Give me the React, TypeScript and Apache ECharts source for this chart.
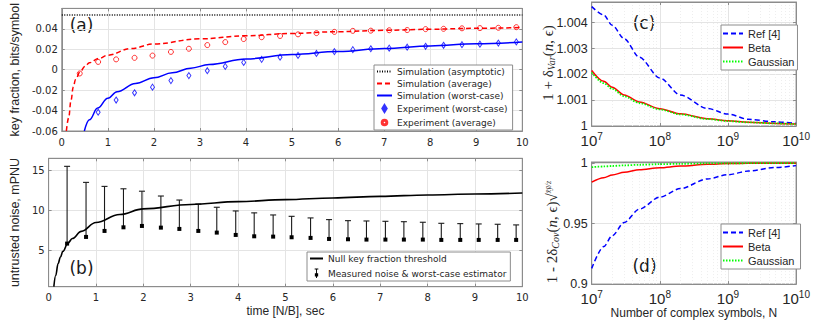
import { useEffect, useRef } from 'react';
import * as echarts from 'echarts';

// ---------- Panel (a): key fraction ----------
const tExp = [0.39, 0.79, 1.18, 1.58, 1.97, 2.37, 2.76, 3.16, 3.55, 3.95, 4.34, 4.74, 5.13, 5.53, 5.92, 6.32, 6.71, 7.11, 7.5, 7.9, 8.29, 8.69, 9.08, 9.48, 9.87];
const expAverage = [-0.0037, 0.0076, 0.0101, 0.0116, 0.0138, 0.0174, 0.0205, 0.0241, 0.027, 0.03, 0.0318, 0.033, 0.0346, 0.0358, 0.037, 0.038, 0.0382, 0.0386, 0.0388, 0.0397, 0.04, 0.0405, 0.0407, 0.041, 0.0416];
const expWorst = [null, -0.0416, -0.0297, -0.0226, -0.0171, -0.0107, -0.0058, -0.001, 0.0032, 0.0071, 0.0101, 0.0122, 0.014, 0.0159, 0.0177, 0.0196, 0.0205, 0.0211, 0.022, 0.0229, 0.0239, 0.0245, 0.025, 0.026, 0.0272];
const tSimAverage = [0.1, 0.15, 0.2, 0.25, 0.3, 0.4, 0.5, 0.6, 0.8, 1, 1.5, 2, 3, 4, 5, 6, 7, 8, 9, 10];
const simAverage = [-0.06, -0.047, -0.03, -0.017, -0.0095, -0.002, 0.003, 0.0068, 0.011, 0.0142, 0.0207, 0.0252, 0.0302, 0.0332, 0.0355, 0.0372, 0.0385, 0.0396, 0.0405, 0.0413];
const tSimWorst = [0.49, 0.6, 0.78, 1, 1.2, 1.6, 2, 2.4, 2.8, 3.2, 4, 5, 6, 7, 8, 9, 10];
const simWorst = [-0.06, -0.049, -0.0376, -0.028, -0.0215, -0.0135, -0.008, -0.003, 0.0015, 0.005, 0.0105, 0.0148, 0.0177, 0.0207, 0.0233, 0.0254, 0.0272];
const tAsym = [0, 10];
const simAsym = [0.0535, 0.0535];

// ---------- Panel (b): untrusted noise ----------
const noiseMeasured = [5.87, 6.7, 7.45, 7.9, 8.07, 7.86, 7.7, 7.45, 7.24, 6.95, 6.78, 6.74, 6.66, 6.58, 6.45, 6.41, 6.37, 6.37, 6.37, 6.37, 6.33, 6.33, 6.33, 6.33, 6.33];
const noiseUpper = [15.5, 13.5, 13.0, 12.7, 12.4, 11.8, 11.3, 10.8, 10.4, 9.94, 9.7, 9.44, 9.27, 9.07, 8.86, 8.73, 8.69, 8.65, 8.6, 8.53, 8.4, 8.36, 8.32, 8.28, 8.2];
const tThreshold = [0.11, 0.15, 0.2, 0.25, 0.3, 0.41, 0.5, 0.69, 1, 1.5, 2, 3, 4, 5, 6, 7, 8, 9, 10];
const threshold = [0.5, 1.9, 3.4, 4.2, 4.9, 5.95, 6.5, 7.4, 8.5, 9.5, 10.2, 10.75, 11.1, 11.35, 11.56, 11.76, 11.93, 12.05, 12.18];

// ---------- Panels (c),(d): vs number of complex symbols ----------
const symbolsN = [1e7, 1.5e7, 2e7, 3e7, 5e7, 1e8, 2e8, 5e8, 1e9, 2e9, 5e9, 1e10];
const varRef = [1.00462, 1.0043, 1.0039, 1.00338, 1.00266, 1.00186, 1.0012, 1.00068, 1.00046, 1.00026, 1.00016, 1.0001];
const varBeta = [1.00215, 1.00173, 1.0015, 1.0012, 1.00093, 1.00067, 1.00047, 1.00028, 1.0002, 1.00015, 1.0001, 1.00008];
const varGauss = [1.00207, 1.00166, 1.00144, 1.00115, 1.00089, 1.00064, 1.00045, 1.00027, 1.00019, 1.00014, 1.0001, 1.00007];
const covRef = [0.913, 0.931, 0.94, 0.951, 0.962, 0.972, 0.979, 0.987, 0.9905, 0.9935, 0.9965, 0.998];
const covBeta = [0.9843, 0.988, 0.9903, 0.9925, 0.9945, 0.9962, 0.9976, 0.9991, 0.9997, 0.9999, 1.0, 1.0];
const covGauss = [0.9967, 0.9973, 0.9977, 0.9982, 0.9987, 0.9992, 0.9995, 0.9998, 0.9999, 1.0, 1.0, 1.0];

// ---------- Tick labels ----------
const yTicksA = [-0.06, -0.04, -0.02, 0, 0.02, 0.04];
const yTicksB = [5, 10, 15];
const yTicksC = [1, 1.001, 1.002, 1.003, 1.004];
const yTicksD = [0.9, 0.95, 1];
const minorDecades = [7, 8, 9];
const minorMultipliers = [2, 3, 4, 5, 6, 7, 8, 9];

const AX = '#8c8c8c';
const TXT = '#262626';
const GRIDC = '#e4e4e4';
const SANS = 'Liberation Sans';
const VSANS = 'DejaVu Sans';
const SERIF = 'Liberation Serif';

const pair = (xs: number[], ys: (number | null)[]) => xs.map((x, i) => [x, ys[i]]);
const minorN: number[] = [];
minorDecades.forEach((k) => minorMultipliers.forEach((m) => minorN.push(m * Math.pow(10, k))));

const grids = [
  { left: 43.7, top: 0, width: 478.6, height: 131 },
  { left: 43.7, top: 158.3, width: 478.6, height: 128.4 },
  { left: 591.7, top: 2, width: 209.3, height: 124 },
  { left: 591.7, top: 162, width: 209.3, height: 123 },
];

const tickStyle = { show: true, inside: true, length: 3, lineStyle: { color: AX } };

function timeX(gridIndex: number, name?: string) {
  return [
    {
      gridIndex, type: 'value', min: 0, max: 10, interval: 1,
      axisLine: { show: true, onZero: false, lineStyle: { color: AX } },
      axisTick: tickStyle,
      axisLabel: { fontFamily: VSANS, fontSize: 10, color: TXT, margin: 6 },
      splitLine: { show: true, lineStyle: { color: GRIDC } },
      name: name || '', nameLocation: 'middle', nameGap: 18,
      nameTextStyle: { fontFamily: SANS, fontSize: 12, color: TXT },
    },
    {
      gridIndex, type: 'value', min: 0, max: 10, interval: 1, position: 'top',
      axisLine: { show: true, onZero: false, lineStyle: { color: AX } },
      axisTick: tickStyle, axisLabel: { show: false }, splitLine: { show: false },
    },
  ];
}

const logLabel = {
  formatter: (v: number) => `{b|10}{s|${Math.round(Math.log10(v))}}`,
  margin: 5,
  rich: {
    b: { fontFamily: SANS, fontSize: 15, color: TXT },
    s: { fontFamily: SANS, fontSize: 10, color: TXT, padding: [0, 0, 9, 0] },
  },
};

function logX(gridIndex: number, name?: string) {
  return [
    {
      gridIndex, type: 'log', logBase: 10, min: 1e7, max: 1e10,
      axisLine: { show: true, onZero: false, lineStyle: { color: AX } },
      axisTick: tickStyle,
      axisLabel: logLabel,
      splitLine: { show: true, lineStyle: { color: GRIDC } },
      name: name || '', nameLocation: 'middle', nameGap: 20,
      nameTextStyle: { fontFamily: SANS, fontSize: 12, color: TXT },
    },
    {
      gridIndex, type: 'log', logBase: 10, min: 1e7, max: 1e10, position: 'top',
      axisLine: { show: true, onZero: false, lineStyle: { color: AX } },
      axisTick: tickStyle, axisLabel: { show: false }, splitLine: { show: false },
    },
  ];
}

function valY(gridIndex: number, min: number, max: number, ticks: number[], font: any, name?: string, gap?: number) {
  return [
    {
      gridIndex, type: 'value', min, max,
      axisLine: { show: true, onZero: false, lineStyle: { color: AX } },
      axisTick: { ...tickStyle, customValues: ticks },
      axisLabel: { ...font, color: TXT, margin: 4, customValues: ticks },
      splitLine: { show: true, lineStyle: { color: GRIDC } },
      name: name || '', nameLocation: 'middle', nameRotate: 90, nameGap: gap || 30,
      nameTextStyle: { fontFamily: SANS, fontSize: 12.5, color: TXT },
    },
    {
      gridIndex, type: 'value', min, max, position: 'right',
      axisLine: { show: true, onZero: false, lineStyle: { color: AX } },
      axisTick: { ...tickStyle, customValues: ticks },
      axisLabel: { show: false, customValues: ticks }, splitLine: { show: false },
    },
  ];
}

// legend icons drawn in a fixed box (the lone move-tos fix the box size)
const diamondIcon = 'path://M0,0M15,9M7.5,1L9.7,4.5L7.5,8L5.3,4.5Z M7.5,2.4L6.4,4.5L7.5,6.6L8.6,4.5Z';
const circleIcon = 'path://M0,0M15,9M10.3,4.5A2.8,2.8 0 1 1 4.7,4.5A2.8,2.8 0 1 1 10.3,4.5Z M9.3,4.5A1.8,1.8 0 1 0 5.7,4.5A1.8,1.8 0 1 0 9.3,4.5Z';
const errorIcon = 'path://M0,0M13,12M4.5,0.5H8.5V1.5H7V11H6V1.5H4.5Z M4.7,5.8H8.3V9.4H4.7Z';
const hideSymbol = { itemStyle: { opacity: 0 } };

const legendBase = {
  orient: 'vertical', selectedMode: false, backgroundColor: '#ffffff',
  borderColor: AX, borderWidth: 1, borderRadius: 0,
};

const option: any = {
  animation: false,
  backgroundColor: '#ffffff',
  grid: grids.map((g) => ({ ...g, show: true, borderColor: AX, borderWidth: 1, backgroundColor: 'transparent' })),
  xAxis: [...timeX(0), ...timeX(1, 'time [N/B], sec'), ...logX(2), ...logX(3, 'Number of complex symbols, N')],
  yAxis: [
    ...valY(0, -0.06, 0.06, yTicksA, { fontFamily: VSANS, fontSize: 10 }, 'key fraction, bits/symbol', 31),
    ...valY(1, 0.5, 16.5, yTicksB, { fontFamily: VSANS, fontSize: 10 }, 'untrusted noise, mPNU', 27),
    ...valY(2, 1, 1.0048, yTicksC, { fontFamily: SANS, fontSize: 12.5 }),
    ...valY(3, 0.9, 1.001, yTicksD, { fontFamily: SANS, fontSize: 12.5 }),
  ],
  legend: [
    {
      ...legendBase, left: 374, top: 65, itemWidth: 15, itemHeight: 9, itemGap: 3,
      padding: [2, 5, 2, 2],
      textStyle: { fontFamily: VSANS, fontSize: 9, color: TXT },
      data: [
        { name: 'Simulation (asymptotic)', ...hideSymbol },
        { name: 'Simulation (average)', ...hideSymbol },
        { name: 'Simulation (worst-case)', ...hideSymbol },
        { name: 'Experiment (worst-case)', icon: diamondIcon },
        { name: 'Experiment (average)', icon: circleIcon },
      ],
    },
    {
      ...legendBase, left: 307, top: 252, itemWidth: 13, itemHeight: 11, itemGap: 5,
      padding: [2, 4, 2, 2],
      textStyle: { fontFamily: VSANS, fontSize: 9, color: TXT },
      data: [
        { name: 'Null key fraction threshold', ...hideSymbol },
        { name: 'Measured noise & worst-case estimator', icon: errorIcon },
      ],
    },
    {
      ...legendBase, left: 721, top: 25, itemWidth: 20, itemHeight: 11, itemGap: 3,
      padding: [3, 3, 3, 1],
      textStyle: { fontFamily: SANS, fontSize: 11, color: TXT },
      data: [
        { name: 'Ref [4]', ...hideSymbol },
        { name: 'Beta', ...hideSymbol },
        { name: 'Gaussian', ...hideSymbol },
      ],
    },
    {
      ...legendBase, left: 721, top: 224, itemWidth: 20, itemHeight: 11, itemGap: 3,
      padding: [3, 3, 3, 1],
      textStyle: { fontFamily: SANS, fontSize: 11, color: TXT },
      data: [
        { name: 'Ref [4] ', ...hideSymbol },
        { name: 'Beta ', ...hideSymbol },
        { name: 'Gaussian ', ...hideSymbol },
      ],
    },
  ],
  graphic: [
    { type: 'text', x: 81.5, y: 24.5, style: { text: '(a)', fontFamily: VSANS, fontSize: 17, fill: '#1a1a1a', align: 'center', verticalAlign: 'middle' } },
    { type: 'text', x: 81.5, y: 268, style: { text: '(b)', fontFamily: VSANS, fontSize: 17, fill: '#1a1a1a', align: 'center', verticalAlign: 'middle' } },
    { type: 'text', x: 644, y: 23, style: { text: '(c)', fontFamily: VSANS, fontSize: 17, fill: '#1a1a1a', align: 'center', verticalAlign: 'middle' } },
    { type: 'text', x: 644.5, y: 266, style: { text: '(d)', fontFamily: VSANS, fontSize: 17, fill: '#1a1a1a', align: 'center', verticalAlign: 'middle' } },
    {
      type: 'text', x: 548, y: 63, rotation: Math.PI / 2,
      style: {
        text: '{r|1 + δ}{sub|Var}{r|(}{i|n}{r|, ϵ)}',
        align: 'center', verticalAlign: 'middle',
        rich: {
          r: { fontFamily: SERIF, fontSize: 15, fill: TXT },
          i: { fontFamily: SERIF, fontSize: 15, fontStyle: 'italic', fill: TXT },
          sub: { fontFamily: SERIF, fontSize: 10, fontStyle: 'italic', fill: TXT, padding: [7, 0, 0, 0] },
        },
      },
    },
    {
      type: 'text', x: 552, y: 232, rotation: Math.PI / 2,
      style: {
        text: '{r|1 - 2δ}{sub|Cov}{r|(}{i|n}{r|, ϵ)}{r|√}{sup|x̄ȳ/z}',
        align: 'center', verticalAlign: 'middle',
        rich: {
          r: { fontFamily: SERIF, fontSize: 15, fill: TXT },
          i: { fontFamily: SERIF, fontSize: 15, fontStyle: 'italic', fill: TXT },
          sub: { fontFamily: SERIF, fontSize: 10, fontStyle: 'italic', fill: TXT, padding: [7, 0, 0, 0] },
          sup: { fontFamily: SERIF, fontSize: 8, fontStyle: 'italic', fill: TXT, padding: [0, 0, 8, 0] },
        },
      },
    },
  ],
  series: [
    // (a)
    {
      name: 'Simulation (asymptotic)', type: 'line', xAxisIndex: 0, yAxisIndex: 0,
      data: pair(tAsym, simAsym), symbol: 'none', color: '#000000',
      lineStyle: { color: '#000000', width: 1.3, type: [1, 1.5] },
    },
    {
      name: 'Simulation (average)', type: 'line', xAxisIndex: 0, yAxisIndex: 0,
      data: pair(tSimAverage, simAverage), symbol: 'none', smooth: 0.4, smoothMonotone: 'x', color: '#ff0000',
      lineStyle: { color: '#ff0000', width: 1.5, type: [5, 3] },
    },
    {
      name: 'Simulation (worst-case)', type: 'line', xAxisIndex: 0, yAxisIndex: 0,
      data: pair(tSimWorst, simWorst), symbol: 'none', smooth: 0.4, smoothMonotone: 'x', color: '#0000ff',
      lineStyle: { color: '#0000ff', width: 1.5 },
    },
    {
      name: 'Experiment (worst-case)', type: 'scatter', xAxisIndex: 0, yAxisIndex: 0,
      data: pair(tExp, expWorst).filter((d) => d[1] !== null), symbol: 'diamond', symbolSize: [4, 6],
      itemStyle: { color: 'transparent', borderColor: '#0000ff', borderWidth: 1 },
    },
    {
      name: 'Experiment (average)', type: 'scatter', xAxisIndex: 0, yAxisIndex: 0,
      data: pair(tExp, expAverage), symbol: 'circle', symbolSize: 5,
      itemStyle: { color: 'transparent', borderColor: '#ff0000', borderWidth: 1 },
    },
    // (b)
    {
      name: 'Null key fraction threshold', type: 'line', xAxisIndex: 2, yAxisIndex: 2,
      data: pair(tThreshold, threshold), symbol: 'none', smooth: 0.4, smoothMonotone: 'x', color: '#000000',
      lineStyle: { color: '#000000', width: 1.6 },
    },
    {
      name: 'Measured noise & worst-case estimator', type: 'custom', xAxisIndex: 2, yAxisIndex: 2,
      data: tExp.map((t, i) => [t, noiseMeasured[i], noiseUpper[i]]),
      encode: { x: 0, y: [1, 2] },
      itemStyle: { color: '#000000' },
      renderItem: (_params: any, api: any) => {
        const x = api.value(0);
        const p1 = api.coord([x, api.value(1)]);
        const p2 = api.coord([x, api.value(2)]);
        return {
          type: 'group',
          children: [
            { type: 'line', shape: { x1: p1[0], y1: p1[1], x2: p2[0], y2: p2[1] }, style: { stroke: '#1a1a1a', lineWidth: 1.1 } },
            { type: 'line', shape: { x1: p2[0] - 3, y1: p2[1], x2: p2[0] + 3, y2: p2[1] }, style: { stroke: '#1a1a1a', lineWidth: 1.1 } },
            { type: 'rect', shape: { x: p1[0] - 2, y: p1[1] - 2, width: 4, height: 4 }, style: { fill: '#000' } },
          ],
        };
      },
    },
    // (c)
    {
      name: 'Ref [4]', type: 'line', xAxisIndex: 4, yAxisIndex: 4,
      data: pair(symbolsN, varRef), symbol: 'none', smooth: 0.3, smoothMonotone: 'x', color: '#0000ff',
      lineStyle: { color: '#0000ff', width: 1.5, type: [5, 3] },
      markLine: {
        silent: true, symbol: ['none', 'none'], label: { show: false }, z: 0,
        lineStyle: { color: '#eeeeee', type: [1, 2], width: 1 },
        data: minorN.map((v) => ({ xAxis: v })),
      },
    },
    {
      name: 'Beta', type: 'line', xAxisIndex: 4, yAxisIndex: 4,
      data: pair(symbolsN, varBeta), symbol: 'none', smooth: 0.3, smoothMonotone: 'x', color: '#ff0000',
      lineStyle: { color: '#ff0000', width: 1.5 },
    },
    {
      name: 'Gaussian', type: 'line', xAxisIndex: 4, yAxisIndex: 4,
      data: pair(symbolsN, varGauss), symbol: 'none', smooth: 0.3, smoothMonotone: 'x', color: '#00ff00',
      lineStyle: { color: '#00ff00', width: 1.8, type: [1.5, 1.5] },
    },
    // (d)
    {
      name: 'Ref [4] ', type: 'line', xAxisIndex: 6, yAxisIndex: 6,
      data: pair(symbolsN, covRef), symbol: 'none', smooth: 0.3, smoothMonotone: 'x', color: '#0000ff',
      lineStyle: { color: '#0000ff', width: 1.5, type: [5, 3] },
      markLine: {
        silent: true, symbol: ['none', 'none'], label: { show: false }, z: 0,
        lineStyle: { color: '#eeeeee', type: [1, 2], width: 1 },
        data: minorN.map((v) => ({ xAxis: v })),
      },
    },
    {
      name: 'Beta ', type: 'line', xAxisIndex: 6, yAxisIndex: 6,
      data: pair(symbolsN, covBeta), symbol: 'none', smooth: 0.3, smoothMonotone: 'x', color: '#ff0000',
      lineStyle: { color: '#ff0000', width: 1.5 },
    },
    {
      name: 'Gaussian ', type: 'line', xAxisIndex: 6, yAxisIndex: 6,
      data: pair(symbolsN, covGauss), symbol: 'none', smooth: 0.3, smoothMonotone: 'x', color: '#00ff00',
      lineStyle: { color: '#00ff00', width: 1.8, type: [1.5, 1.5] },
    },
  ],
};

export default function App() {
  const ref = useRef<HTMLDivElement>(null);
  useEffect(() => {
    const chart = echarts.init(ref.current!, null, { renderer: 'svg' });
    chart.setOption(option);
    return () => chart.dispose();
  }, []);
  return (
    <div
      ref={ref}
      style={{ position: 'fixed', left: 0, top: 0, width: 813, height: 320, background: '#ffffff' }}
    />
  );
}
